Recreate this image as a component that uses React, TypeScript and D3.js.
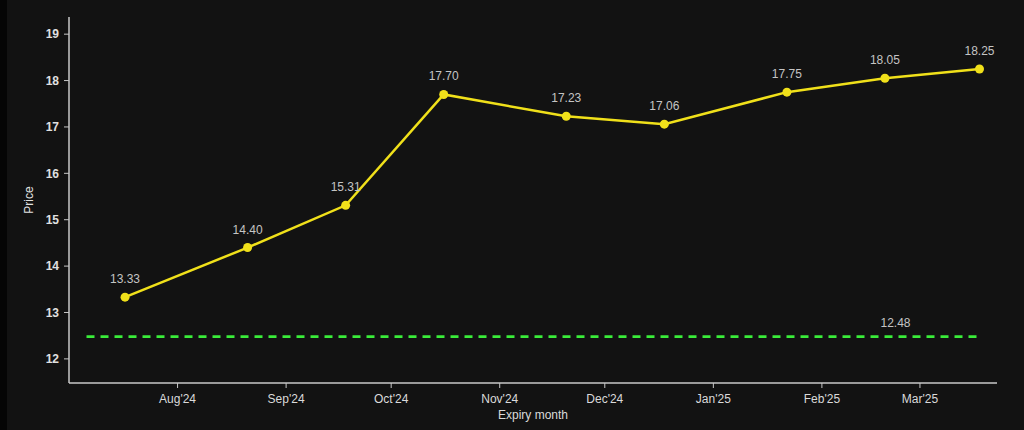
import * as d3 from "d3";
import React from "react";

// VIX futures curve vs spot
const expiryDates = [
  "2024-07-17", "2024-08-21", "2024-09-18", "2024-10-16", "2024-11-20",
  "2024-12-18", "2025-01-22", "2025-02-19", "2025-03-18",
];
const prices = [13.33, 14.4, 15.31, 17.7, 17.23, 17.06, 17.75, 18.05, 18.25];
const spotValue = 12.48;
const spotStart = "2024-07-06";
const xDomain = ["2024-07-01", "2025-03-23"];
const yDomain = [11.48, 19.37];
const yTicks = [12, 13, 14, 15, 16, 17, 18, 19];

const W = 1024;
const H = 430;
const margin = { top: 17, right: 27, bottom: 47, left: 69 };
const font = "'Liberation Sans', Arial, sans-serif";

const parse = d3.timeParse("%Y-%m-%d");

const App = () => {
  const innerW = W - margin.left - margin.right;
  const innerH = H - margin.top - margin.bottom;

  const x = d3
    .scaleTime()
    .domain(xDomain.map((d) => parse(d) as Date))
    .range([0, innerW]);
  const y = d3.scaleLinear().domain(yDomain).range([innerH, 0]);

  const points = expiryDates.map((d, i) => ({ date: parse(d) as Date, value: prices[i] }));
  const line = d3
    .line<{ date: Date; value: number }>()
    .x((d) => x(d.date))
    .y((d) => y(d.value));

  const monthTicks = d3.timeMonth
    .range(d3.timeMonth.ceil(x.domain()[0]), x.domain()[1])
    .filter((d) => d >= new Date(2024, 7, 1));
  const fmt = d3.timeFormat("%b'%y");

  const spotX0 = x(parse(spotStart) as Date);
  const spotX1 = x(points[points.length - 1].date);

  return (
    <div
      style={{
        position: "absolute",
        left: 0,
        top: 0,
        width: W,
        height: H,
        background: "#121212",
        overflow: "hidden",
      }}
    >
      <div style={{ position: "absolute", left: 0, top: 0, width: 7, height: H, background: "#050505" }} />
      <svg width={W} height={H} style={{ position: "absolute", left: 0, top: 0, fontFamily: font }}>
        <g transform={`translate(${margin.left},${margin.top})`}>
          {/* y axis */}
          <line x1={0} x2={0} y1={0} y2={innerH} stroke="#c8c8c8" strokeWidth={1.5} />
          {yTicks.map((t) => (
            <g key={t} transform={`translate(0,${y(t)})`}>
              <line x1={-5} x2={0} stroke="#c8c8c8" strokeWidth={1} />
              <text x={-10} dy="0.35em" textAnchor="end" fill="#e0e0e0" fontSize={12} fontWeight="bold">
                {t}
              </text>
            </g>
          ))}
          {/* x axis */}
          <line x1={0} x2={innerW} y1={innerH} y2={innerH} stroke="#c8c8c8" strokeWidth={1.5} />
          {monthTicks.map((t) => (
            <g key={+t} transform={`translate(${x(t)},${innerH})`}>
              <line y1={0} y2={5} stroke="#c8c8c8" strokeWidth={1} />
              <text y={20} textAnchor="middle" fill="#dadada" fontSize={12}>
                {fmt(t)}
              </text>
            </g>
          ))}
          <text x={innerW / 2} y={innerH + 36} textAnchor="middle" fill="#dadada" fontSize={12}>
            Expiry month
          </text>
          <text
            transform={`translate(${-36},${innerH / 2}) rotate(-90)`}
            textAnchor="middle"
            fill="#e0e0e0"
            fontSize={12}
          >
            Price
          </text>

          {/* spot reference */}
          <line
            x1={spotX0}
            x2={spotX1}
            y1={y(spotValue)}
            y2={y(spotValue)}
            stroke="#3aec3a"
            strokeWidth={2.8}
            strokeDasharray="8,6"
          />
          <text
            x={spotX1 - 84}
            y={y(spotValue) - 10}
            textAnchor="middle"
            fill="#c4c4c4"
            fontSize={12}
          >
            {spotValue.toFixed(2)}
          </text>

          {/* futures curve */}
          <path d={line(points) || undefined} fill="none" stroke="#f0e01a" strokeWidth={2.5} />
          {points.map((p, i) => (
            <g key={i}>
              <circle cx={x(p.date)} cy={y(p.value)} r={4.5} fill="#f0e01a" />
              <text
                x={x(p.date)}
                y={y(p.value) - 14}
                textAnchor="middle"
                fill="#c4c4c4"
                fontSize={12}
              >
                {p.value.toFixed(2)}
              </text>
            </g>
          ))}
        </g>
      </svg>
    </div>
  );
};

export default App;
